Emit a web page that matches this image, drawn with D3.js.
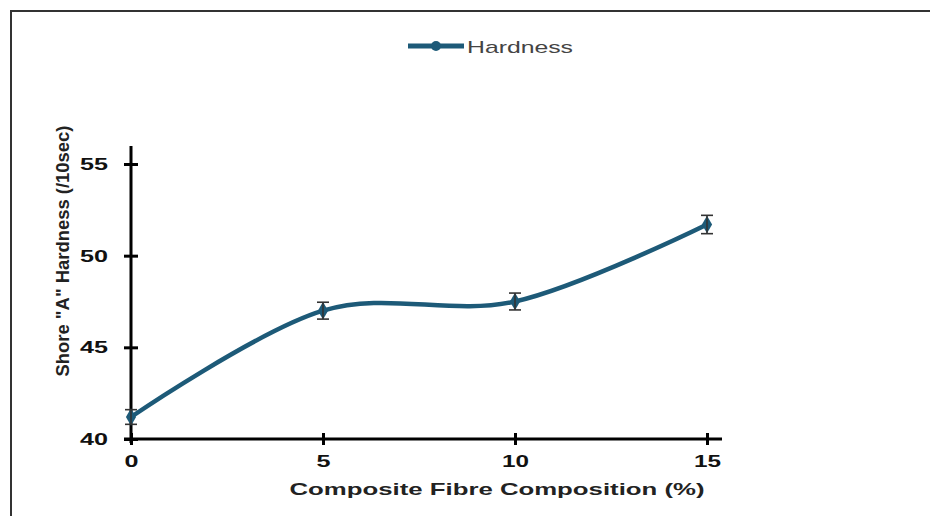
<!DOCTYPE html>
<html>

<head>
  <meta charset="utf-8">
  <title>Hardness</title>
  <script src="https://d3js.org/d3.v7.min.js"></script>
  <style>
    body { margin: 0; background: #fff; }
    text { font-family: "Liberation Sans", Arial, sans-serif; }
  </style>
</head>

<body>
  <script>
    // data
    var composition = [0, 5, 10, 15];
    var hardness = [41.2, 47.0, 47.5, 51.7];
    var hardnessErr = [0.4, 0.46, 0.46, 0.5];
    var xTicks = [0, 5, 10, 15];
    var yTicks = [40, 45, 50, 55];
    var seriesName = "Hardness";

    var width = 930, height = 516;
    var lineColor = "#1d5a78";

    var svg = d3.select("body").append("svg").attr("width", width).attr("height", height);

    // frame (top and left edges only are visible)
    svg.append("line").attr("x1", 11).attr("x2", width).attr("y1", 11).attr("y2", 11)
      .attr("stroke", "#333").attr("stroke-width", 2);
    svg.append("line").attr("x1", 11).attr("x2", 11).attr("y1", 10).attr("y2", height)
      .attr("stroke", "#333").attr("stroke-width", 2);

    var x = d3.scaleLinear().domain([0, 15]).range([131, 707]);
    var y = d3.scaleLinear().domain([40, 55]).range([439, 164]);

    // x axis
    var gX = svg.append("g").attr("transform", "translate(0," + y(40) + ")")
      .call(d3.axisBottom(x).tickValues(xTicks).tickSize(0).tickPadding(16));
    gX.select(".domain").remove();
    gX.append("line").attr("x1", 124).attr("x2", 722).attr("stroke", "#000").attr("stroke-width", 3);
    gX.selectAll(".tick").append("line").attr("y1", -6).attr("y2", 6).attr("stroke", "#000").attr("stroke-width", 3);
    gX.selectAll(".tick text")
      .attr("font-size", 17).attr("font-weight", "bold").attr("fill", "#111")
      .attr("font-family", "Liberation Sans, Arial, sans-serif")
      .attr("textLength", function (d) { return d < 10 ? 14 : 27; })
      .attr("lengthAdjust", "spacingAndGlyphs");

    // y axis
    var gY = svg.append("g").attr("transform", "translate(" + x(0) + ",0)")
      .call(d3.axisLeft(y).tickValues(yTicks).tickSize(0).tickPadding(23));
    gY.select(".domain").remove();
    gY.append("line").attr("y1", 146).attr("y2", 443).attr("stroke", "#000").attr("stroke-width", 3);
    gY.selectAll(".tick").append("line").attr("x1", -7).attr("x2", 7).attr("stroke", "#000").attr("stroke-width", 3);
    gY.selectAll(".tick text")
      .attr("font-size", 17).attr("font-weight", "bold").attr("fill", "#111")
      .attr("font-family", "Liberation Sans, Arial, sans-serif")
      .attr("textLength", 28)
      .attr("lengthAdjust", "spacingAndGlyphs");

    // axis titles
    svg.append("text")
      .attr("x", 497).attr("y", 495)
      .attr("text-anchor", "middle")
      .attr("font-size", 17).attr("font-weight", "bold").attr("fill", "#222")
      .attr("textLength", 415).attr("lengthAdjust", "spacingAndGlyphs")
      .text("Composite Fibre Composition (%)");

    svg.append("text")
      .attr("transform", "translate(69,251) rotate(-90)")
      .attr("text-anchor", "middle")
      .attr("font-size", 19).attr("font-weight", "bold").attr("fill", "#222")
      .attr("textLength", 251).attr("lengthAdjust", "spacingAndGlyphs")
      .text('Shore "A" Hardness (/10sec)');

    // smoothed line
    var pts = composition.map(function (c, i) { return { x: c, y: hardness[i], e: hardnessErr[i] }; });
    var line = d3.line()
      .x(function (d) { return x(d.x); })
      .y(function (d) { return y(d.y); })
      .curve(d3.curveCardinal.tension(0));

    svg.append("path").datum(pts)
      .attr("d", line)
      .attr("fill", "none")
      .attr("stroke", lineColor)
      .attr("stroke-width", 4.5);

    // markers
    var diamond = d3.symbol().type(d3.symbolDiamond).size(90);
    svg.selectAll(".mark").data(pts).enter().append("path")
      .attr("class", "mark")
      .attr("d", diamond)
      .attr("transform", function (d) { return "translate(" + x(d.x) + "," + y(d.y) + ")"; })
      .attr("fill", lineColor);

    // error bars
    var eb = svg.selectAll(".err").data(pts).enter().append("g").attr("class", "err")
      .attr("stroke", "#333").attr("stroke-width", 1.6);
    eb.append("line")
      .attr("x1", function (d) { return x(d.x); }).attr("x2", function (d) { return x(d.x); })
      .attr("y1", function (d) { return y(d.y - d.e); }).attr("y2", function (d) { return y(d.y + d.e); });
    eb.append("line")
      .attr("x1", function (d) { return x(d.x) - 6; }).attr("x2", function (d) { return x(d.x) + 6; })
      .attr("y1", function (d) { return y(d.y + d.e); }).attr("y2", function (d) { return y(d.y + d.e); });
    eb.append("line")
      .attr("x1", function (d) { return x(d.x) - 6; }).attr("x2", function (d) { return x(d.x) + 6; })
      .attr("y1", function (d) { return y(d.y - d.e); }).attr("y2", function (d) { return y(d.y - d.e); });

    // legend
    var lg = svg.append("g");
    lg.append("line").attr("x1", 408).attr("x2", 464).attr("y1", 46).attr("y2", 46)
      .attr("stroke", lineColor).attr("stroke-width", 5);
    lg.append("circle").attr("cx", 436).attr("cy", 46).attr("r", 5).attr("fill", lineColor);
    lg.append("text").attr("x", 467).attr("y", 53)
      .attr("font-size", 17).attr("fill", "#444")
      .attr("textLength", 106).attr("lengthAdjust", "spacingAndGlyphs")
      .text(seriesName);
  </script>
</body>

</html>
